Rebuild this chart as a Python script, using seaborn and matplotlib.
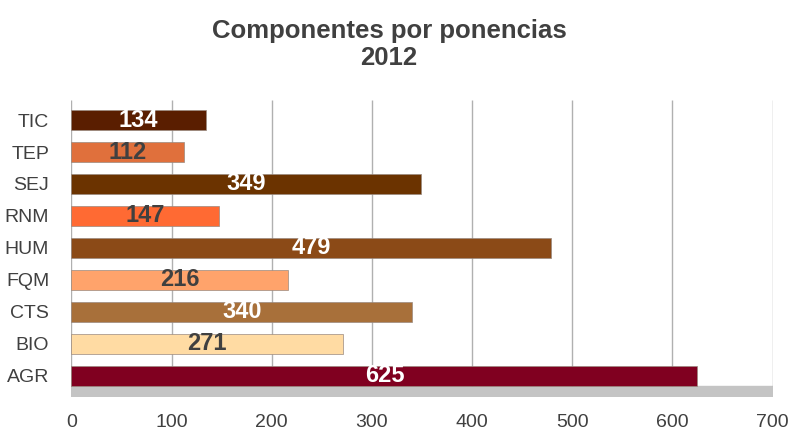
import pandas as pd
import seaborn as sns
import matplotlib.pyplot as plt

areas = ['TIC', 'TEP', 'SEJ', 'RNM', 'HUM', 'FQM', 'CTS', 'BIO', 'AGR']
componentes = [134, 112, 349, 147, 479, 216, 340, 271, 625]
colores = ['#5A1E00', '#E0703C', '#6B3300', '#FF6A33', '#8B4A17',
           '#FFA36B', '#A8703A', '#FFDBA3', '#800020']
color_texto = ['white', '#404040', 'white', '#404040', 'white',
               '#404040', 'white', '#404040', 'white']

data = pd.DataFrame({'Area': areas, 'Componentes': componentes})

sns.set_style('white')
plt.rcParams['font.family'] = ['Liberation Sans', 'DejaVu Sans']

fig = plt.figure(figsize=(7.94, 4.33), dpi=100)
ax = fig.add_axes([0.09, 0.083, 0.883, 0.686])

# floor and grid
ax.axhspan(8.3, 8.66, xmin=0, xmax=1, color='#c4c4c4', zorder=0)
ax.vlines(range(0, 701, 100), -0.625, 8.3, color='#b0b0b0', lw=1, zorder=0)

sns.barplot(x='Componentes', y='Area', data=data, hue='Area', palette=colores,
            legend=False, orient='h', width=0.62, saturation=1,
            edgecolor='#9a8a80', linewidth=0.5, ax=ax, zorder=2)

for i, (v, c) in enumerate(zip(componentes, color_texto)):
    ax.text(v / 2, i, str(v), ha='center', va='center', fontsize=17,
            fontweight='bold', color=c, zorder=3)

ax.set_xlim(0, 700)
ax.set_ylim(8.66, -0.625)
ax.set_xticks(range(0, 701, 100))
ax.set_xlabel('')
ax.set_ylabel('')
ax.tick_params(axis='x', pad=12, labelsize=14, labelcolor='#404040', length=0)
ax.tick_params(axis='y', pad=16, labelsize=14, labelcolor='#404040', length=0)
for s in ax.spines.values():
    s.set_visible(False)

fig.suptitle('Componentes por ponencias\n2012', x=0.49, y=0.955,
             fontsize=18.5, fontweight='bold', color='#404040', linespacing=1.15)

fig.savefig('out.png', dpi=100)
